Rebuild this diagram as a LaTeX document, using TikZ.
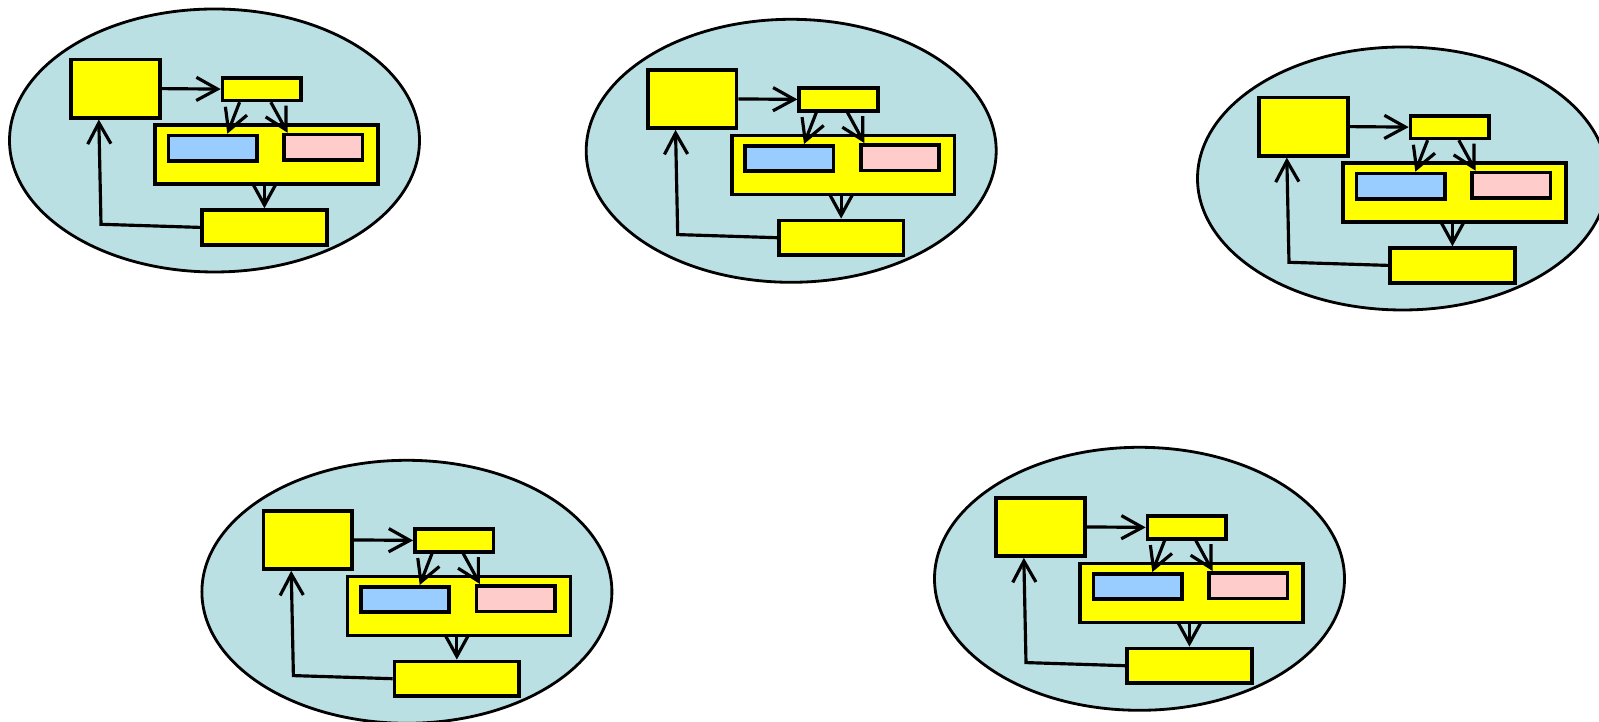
\documentclass[tikz,border=0pt]{standalone}
\usetikzlibrary{arrows.meta, calc}
\definecolor{poolblue}{HTML}{BAE0E3}
\definecolor{boxyellow}{RGB}{255,255,0}
\definecolor{cellblue}{HTML}{99CCFF}
\definecolor{cellpink}{HTML}{FFCCCC}
\tikzset{pool/.style = {draw=black, fill=poolblue, line width=0.8pt}}
\tikzset{unit/.style = {rectangle, draw=black, fill=boxyellow, line width=1pt,
  anchor=north west, inner sep=0pt}}
\tikzset{flow/.style = {-{Straight Barb[length=6pt, width=6.6pt]}, line width=0.9pt}}

\begin{document}
\begin{tikzpicture}[x=0.01cm, y=-0.01cm]
  \useasboundingbox (0,0) rectangle (1599,722);
  \foreach \px/\py [count=\i] in {69.3/57.7, 646/68, 1257.3/95.7, 261.7/509, 994.3/496}
  {
    \begin{scope}[shift={(\px,\py)}]
      \path[pool] (145.2,82.8) ellipse [x radius=205, y radius=131.5];

      \node[unit, minimum width=0.887cm, minimum height=0.583cm] (src\i) at (0,0) {};
      \node[unit, minimum width=0.786cm, minimum height=0.227cm] (fork\i) at (151.4,18.3) {};
      \node[unit, minimum width=2.227cm, minimum height=0.59cm] (pair\i) at (84,65.6) {};
      \node[unit, fill=cellblue, minimum width=0.883cm, minimum height=0.253cm]
        (left\i) at (97.4,76) {};
      \node[unit, fill=cellpink, minimum width=0.784cm, minimum height=0.256cm]
        (right\i) at (213,75) {};
      \node[unit, minimum width=1.247cm, minimum height=0.347cm] (sink\i) at (131,150.6) {};
      \coordinate (bend\i) at (31.7,166.6);

      \draw[flow] (src\i.east) -- (fork\i.west);
      \draw[flow] ($(fork\i.south west)!0.23!(fork\i.south east)$)
        -- ($(left\i.north west)!0.66!(left\i.north east)$);
      \draw[flow] ($(fork\i.south west)!0.61!(fork\i.south east)$)
        -- ($(right\i.north west)!0.064!(right\i.north east)$);
      \draw[flow] (sink\i.north |- pair\i.south) -- (sink\i.north);
      \draw[flow] (sink\i.west) -- (bend\i)
        -- ($(src\i.south west)!0.32!(src\i.south east)$);
    \end{scope}
  }
\end{tikzpicture}
\end{document}
